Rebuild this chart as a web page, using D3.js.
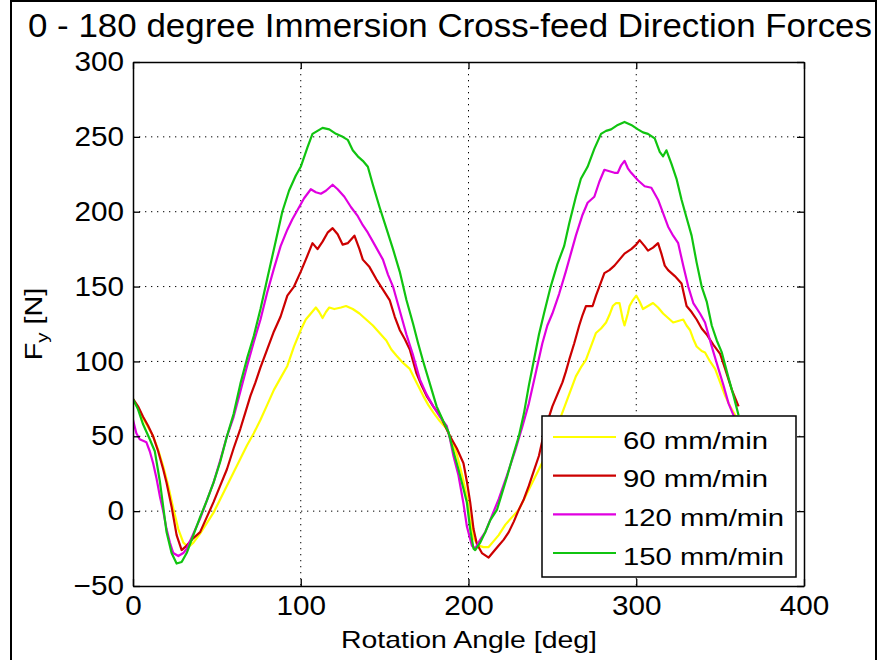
<!DOCTYPE html>
<html>
<head>
<meta charset="utf-8">
<script src="https://cdn.jsdelivr.net/npm/d3@7"></script>
<style>
  html, body { margin: 0; padding: 0; background: #fff; }
  svg { display: block; font-family: "Liberation Sans", Arial, Helvetica, sans-serif; }
</style>
</head>
<body>
<svg id="chart" width="880" height="660"></svg>
<script>
// ---------------- data ----------------
const titleText = "0 - 180 degree Immersion Cross-feed Direction Forces";
const xLabel = "Rotation Angle [deg]";
const xTicks = [0, 100, 200, 300, 400];
const yTicks = [-50, 0, 50, 100, 150, 200, 250, 300];
const seriesNames = ["60 mm/min", "90 mm/min", "120 mm/min", "150 mm/min"];
const seriesColors = ["#ffff00", "#cc0000", "#e000e0", "#10c410"];

// [angle (deg), Fy (N)]
const feed60 = [[0,74],[3,69],[6,62],[9,56],[12,50],[15,41],[18,30],[21,17],[24,2],[27,-12],[30,-21],[33,-24],[36,-21],[40,-15],[44,-8],[48,-1],[52,8],[56,17],[60,26],[64,35],[68,44],[72,52],[76,61],[80,71],[84,81],[88,89],[92,97],[96,110],[100,121],[103,128],[106,132],[109,136],[111,133],[113,129],[115,133],[117,136],[120,135],[124,136],[127,137],[131,135],[135,132],[139,128],[143,124],[147,119],[151,114],[154,108],[157,104],[161,99],[165,95],[169,86],[173,77],[176,71],[179,66],[183,60],[187,55],[190,47],[193,38],[196,25],[199,10],[201,-5],[203,-18],[206,-23],[209,-24],[212,-24],[215,-20],[218,-16],[222,-9],[226,-4],[230,1],[234,10],[238,19],[242,28],[246,37],[249,46],[252,55],[255,63],[258,72],[261,81],[264,90],[267,96],[270,101],[273,110],[276,119],[279,122],[282,126],[284,131],[286,137],[288,139],[290,139],[292,128],[293,124],[295,132],[296,137],[298,141],[300,144],[302,140],[304,135],[307,137],[310,139],[313,136],[316,132],[319,129],[322,126],[325,127],[328,128],[330,124],[332,121],[334,115],[336,110],[339,107],[341,106],[344,100],[347,95],[350,86],[353,77],[356,70],[359,64],[361,60]];

const feed90 = [[0,75],[3,70],[6,63],[9,57],[12,50],[15,40],[18,28],[20,19],[23,3],[26,-16],[29,-26],[32,-23],[36,-18],[40,-14],[44,-4],[48,6],[52,17],[56,28],[60,42],[64,55],[67,66],[70,77],[73,86],[76,96],[80,108],[84,120],[88,130],[92,144],[96,150],[100,160],[103,168],[107,179],[110,175],[113,180],[116,186],[119,189],[122,185],[125,178],[128,179],[132,184],[135,175],[137,168],[141,163],[145,155],[149,148],[153,141],[156,130],[159,121],[162,115],[165,108],[169,92],[172,84],[175,77],[179,70],[183,64],[186,57],[189,50],[193,42],[197,32],[199,20],[201,6],[203,-12],[205,-22],[208,-28],[212,-31],[215,-27],[218,-23],[221,-19],[224,-14],[227,-7],[230,1],[233,8],[236,17],[239,27],[242,37],[244,47],[246,57],[248,63],[250,70],[253,78],[256,86],[258,93],[260,101],[263,112],[266,124],[268,131],[270,137],[272,137],[274,137],[276,144],[278,150],[281,159],[284,161],[287,164],[290,168],[293,172],[297,175],[300,178],[302,181],[305,177],[307,174],[310,176],[313,179],[315,172],[317,164],[319,161],[323,157],[327,152],[330,137],[333,133],[336,128],[339,122],[342,118],[346,111],[350,105],[353,95],[357,81],[361,70]];

const feed120 = [[0,61],[2,52],[4,48],[8,46],[10,40],[12,32],[14,22],[16,10],[18,0],[20,-12],[22,-21],[24,-28],[27,-30],[30,-28],[32,-25],[36,-15],[40,-5],[44,7],[48,19],[52,34],[56,50],[60,63],[64,80],[68,97],[72,113],[76,128],[80,146],[84,162],[88,177],[92,188],[95,195],[98,201],[102,209],[106,215],[109,213],[112,212],[115,214],[119,218],[122,215],[126,210],[130,203],[134,197],[137,191],[140,186],[143,180],[146,174],[149,168],[152,158],[155,150],[159,134],[163,118],[167,104],[171,88],[175,78],[179,70],[183,63],[187,57],[189,48],[191,37],[194,24],[197,5],[199,-10],[202,-23],[204,-25],[207,-19],[210,-14],[214,-3],[218,8],[223,24],[228,41],[232,56],[236,72],[240,92],[244,112],[247,124],[250,132],[254,145],[258,160],[261,172],[264,184],[268,198],[271,206],[275,210],[278,220],[281,228],[284,227],[287,226],[289,226],[291,231],[293,234],[295,229],[297,226],[301,221],[305,217],[309,216],[313,208],[316,199],[319,190],[322,184],[325,179],[328,164],[331,150],[334,139],[338,132],[341,126],[345,110],[349,95],[352,84],[355,72],[358,64],[361,58]];

const feed150 = [[0,75],[3,68],[6,58],[10,48],[13,40],[16,20],[20,-14],[23,-28],[26,-35],[29,-34],[32,-28],[36,-16],[40,-4],[44,7],[48,19],[52,33],[56,50],[60,65],[64,85],[68,102],[72,117],[76,135],[80,155],[85,180],[89,200],[93,214],[97,224],[100,230],[104,243],[107,252],[110,254],[113,256],[117,255],[121,252],[125,250],[128,248],[131,241],[134,237],[137,234],[140,230],[143,218],[147,203],[151,189],[155,175],[159,160],[163,141],[167,125],[170,112],[173,100],[177,85],[181,70],[185,60],[188,53],[191,40],[194,28],[197,15],[199,6],[201,-12],[203,-25],[204,-26],[207,-21],[210,-14],[213,-6],[217,1],[220,12],[223,23],[226,35],[230,50],[233,65],[236,84],[239,101],[242,118],[245,132],[249,150],[253,165],[257,177],[260,192],[264,210],[267,222],[271,230],[275,242],[279,252],[282,254],[285,255],[289,258],[293,260],[297,258],[301,255],[304,253],[307,252],[311,249],[314,240],[316,237],[318,241],[321,232],[324,222],[327,208],[330,196],[333,184],[336,166],[339,150],[342,140],[345,124],[348,114],[351,106],[355,89],[358,77],[361,64]];

const allSeries = [feed60, feed90, feed120, feed150];

// ---------------- layout ----------------
const svg = d3.select("#chart");
const L = 133, R = 804, T = 62, B = 586;
const x = d3.scaleLinear().domain([0, 400]).range([L, R]);
const y = d3.scaleLinear().domain([-50, 300]).range([B, T]);

// outer frame
svg.append("rect").attr("x", 11).attr("y", 1).attr("width", 865).attr("height", 700)
  .attr("fill", "none").attr("stroke", "#000").attr("stroke-width", 2);

// plot background
svg.append("rect").attr("x", L).attr("y", T).attr("width", R - L).attr("height", B - T).attr("fill", "#fff");

// grid
const grid = svg.append("g").attr("stroke", "#000").attr("stroke-width", 1).attr("stroke-dasharray", "1.3,4.7");
grid.selectAll(".gx").data(xTicks.filter(d => d > 0 && d < 400)).enter().append("line")
  .attr("x1", d => x(d)).attr("x2", d => x(d)).attr("y1", T).attr("y2", B);
grid.selectAll(".gy").data(yTicks.filter(d => d > -50 && d < 300)).enter().append("line")
  .attr("y1", d => y(d)).attr("y2", d => y(d)).attr("x1", L).attr("x2", R);

// lines
const clipId = "plotclip";
svg.append("clipPath").attr("id", clipId).append("rect")
  .attr("x", L).attr("y", T).attr("width", R - L).attr("height", B - T);
const line = d3.line().x(d => x(d[0])).y(d => y(d[1]));
svg.append("g").attr("clip-path", `url(#${clipId})`)
  .selectAll("path").data(allSeries).enter().append("path")
  .attr("d", line).attr("fill", "none")
  .attr("stroke", (d, i) => seriesColors[i]).attr("stroke-width", 2.2)
  .attr("stroke-linejoin", "round");

// axes
const fontTick = 27, stretch = 1.1;
function styleAxis(g) {
  g.select(".domain").attr("stroke", "#000").attr("stroke-width", 1.5);
  g.selectAll(".tick line").attr("stroke", "#000").attr("stroke-width", 1.3);
  g.selectAll("text").attr("font-size", fontTick).attr("fill", "#000")
    .attr("font-family", "'Liberation Sans', Arial, sans-serif");
}
svg.append("g").attr("transform", `translate(0,${B})`)
  .call(d3.axisBottom(x).tickValues(xTicks).tickSizeInner(-7).tickSizeOuter(0).tickPadding(10))
  .call(styleAxis)
  .call(g => g.selectAll("text").attr("transform", `scale(${stretch},1)`));
svg.append("g").attr("transform", `translate(0,${T})`)
  .call(d3.axisTop(x).tickValues(xTicks).tickSizeInner(-7).tickSizeOuter(0).tickFormat(""))
  .call(styleAxis);
svg.append("g").attr("transform", `translate(${L},0)`)
  .call(d3.axisLeft(y).tickValues(yTicks).tickSizeInner(-7).tickSizeOuter(0).tickPadding(9))
  .call(styleAxis)
  .call(g => g.selectAll("text").attr("x", -9 / stretch).attr("transform", `scale(${stretch},1)`));
svg.append("g").attr("transform", `translate(${R},0)`)
  .call(d3.axisRight(y).tickValues(yTicks).tickSizeInner(-7).tickSizeOuter(0).tickFormat(""))
  .call(styleAxis);

// title
svg.append("text").attr("x", 450).attr("y", 37).attr("text-anchor", "middle")
  .attr("font-size", 33).attr("textLength", 844).attr("lengthAdjust", "spacingAndGlyphs")
  .text(titleText);

// x label
svg.append("text").attr("x", 469).attr("y", 648).attr("text-anchor", "middle")
  .attr("font-size", 24).attr("textLength", 256).attr("lengthAdjust", "spacingAndGlyphs")
  .text(xLabel);

// y label  F_y [N]
const yl = svg.append("text").attr("transform", "translate(42,324) rotate(-90) scale(1.2,1)")
  .attr("text-anchor", "middle").attr("font-size", 24);
yl.append("tspan").text("F");
yl.append("tspan").attr("font-size", 17).attr("dy", 6).text("y");
yl.append("tspan").attr("dy", -6).text(" [N]");

// legend
const lg = svg.append("g");
lg.append("rect").attr("x", 542).attr("y", 416).attr("width", 254).attr("height", 161)
  .attr("fill", "#fff").attr("stroke", "#000").attr("stroke-width", 1.5);
const rowY = d3.scalePoint().domain(seriesNames).range([437, 553]);
const textLen = [145, 145, 161, 161];
seriesNames.forEach((name, i) => {
  lg.append("line").attr("x1", 553).attr("x2", 616).attr("y1", rowY(name)).attr("y2", rowY(name))
    .attr("stroke", seriesColors[i]).attr("stroke-width", 2.2);
  lg.append("text").attr("x", 623).attr("y", rowY(name) + 11.5).attr("font-size", 24.5)
    .attr("textLength", textLen[i]).attr("lengthAdjust", "spacingAndGlyphs").text(name);
});
</script>
</body>
</html>
